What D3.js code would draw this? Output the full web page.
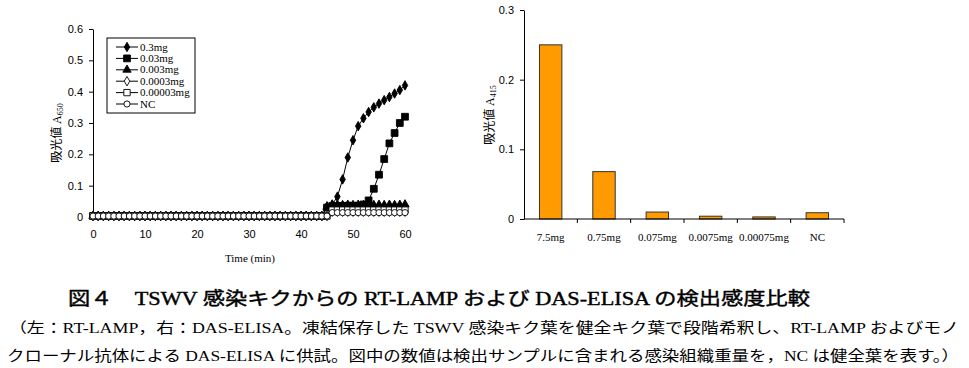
<!DOCTYPE html>
<html>
<head>
<meta charset="utf-8">
<script src="https://cdn.jsdelivr.net/npm/d3@7"></script>
<style>
  body { margin: 0; background: #fff; }
  svg { display: block; }
  .tick text { font-family: "Liberation Sans Narrow", "Liberation Sans", sans-serif; font-size: 11px; fill: #000; }
  .serif { font-family: "Liberation Serif", "Noto Sans CJK JP", serif; }
</style>
</head>
<body>
<svg id="fig" width="969" height="368"></svg>
<script>
// ---- left: RT-LAMP turbidity, one reading per minute
var time = [0, 1, 2, 3, 4, 5, 6, 7, 8, 9, 10, 11, 12, 13, 14, 15, 16, 17, 18, 19, 20,
    21, 22, 23, 24, 25, 26, 27, 28, 29, 30, 31, 32, 33, 34, 35, 36, 37, 38, 39, 40,
    41, 42, 43, 44, 45, 46, 47, 48, 49, 50, 51, 52, 53, 54, 55, 56, 57, 58, 59, 60];

// readings before 45 min are flat at 0.003
var flat = [0.003, 0.003, 0.003, 0.003, 0.003, 0.003, 0.003, 0.003, 0.003, 0.003,
    0.003, 0.003, 0.003, 0.003, 0.003, 0.003, 0.003, 0.003, 0.003, 0.003,
    0.003, 0.003, 0.003, 0.003, 0.003, 0.003, 0.003, 0.003, 0.003, 0.003,
    0.003, 0.003, 0.003, 0.003, 0.003, 0.003, 0.003, 0.003, 0.003, 0.003,
    0.003, 0.003, 0.003, 0.003, 0.003];

var mg03 = flat.concat([0.034, 0.040, 0.065, 0.120, 0.190, 0.245, 0.290, 0.315,
    0.335, 0.350, 0.362, 0.373, 0.383, 0.394, 0.405, 0.420]);
var mg003 = flat.concat([0.030, 0.035, 0.035, 0.035, 0.036, 0.036, 0.036, 0.040,
    0.053, 0.090, 0.135, 0.185, 0.235, 0.268, 0.300, 0.320]);
var mg0003 = flat.concat([0.032, 0.038, 0.039, 0.038, 0.039, 0.038, 0.039, 0.038,
    0.039, 0.038, 0.039, 0.038, 0.039, 0.038, 0.039, 0.040]);
var mg00003 = flat.concat([0.003, 0.017, 0.017, 0.017, 0.017, 0.017, 0.017, 0.017,
    0.017, 0.017, 0.017, 0.017, 0.017, 0.017, 0.017, 0.017]);
var mg000003 = flat.concat([0.003, 0.022, 0.022, 0.022, 0.022, 0.022, 0.022, 0.022,
    0.022, 0.022, 0.022, 0.022, 0.022, 0.022, 0.022, 0.022]);
var ncLamp = flat.concat([0.003, 0.014, 0.014, 0.014, 0.014, 0.014, 0.014, 0.014,
    0.014, 0.014, 0.014, 0.014, 0.014, 0.014, 0.014, 0.014]);

var lampNames = ["0.3mg", "0.03mg", "0.003mg", "0.0003mg", "0.00003mg", "NC"];
var lampValues = [mg03, mg003, mg0003, mg00003, mg000003, ncLamp];
var lampTicksX = [0, 10, 20, 30, 40, 50, 60];
var lampTicksY = [0, 0.1, 0.2, 0.3, 0.4, 0.5, 0.6];

// ---- right: DAS-ELISA
var elisaCats = ["7.5mg", "0.75mg", "0.075mg", "0.0075mg", "0.00075mg", "NC"];
var elisaValues = [0.250, 0.068, 0.010, 0.004, 0.003, 0.009];
var elisaTicksY = [0, 0.1, 0.2, 0.3];

var svg = d3.select("#fig");

// marker per series: symbol, filled?
var markers = [
    {type: d3.symbolDiamond, size: 26, fill: "#000"},
    {type: d3.symbolSquare, size: 46, fill: "#000"},
    {type: d3.symbolTriangle, size: 30, fill: "#000"},
    {type: d3.symbolDiamond, size: 26, fill: "#fff"},
    {type: d3.symbolSquare, size: 40, fill: "#fff"},
    {type: d3.symbolCircle, size: 30, fill: "#fff"}
];

// ===== left chart
var x = d3.scaleLinear().domain([0, 60]).range([93, 405]);
var y = d3.scaleLinear().domain([0, 0.6]).range([217, 29]);

var left = svg.append("g");

left.append("g")
    .attr("transform", "translate(0,217)")
    .call(d3.axisBottom(x).tickValues(lampTicksX).tickFormat(d3.format("d")).tickSize(4).tickPadding(9))
    .call(function (g) { g.select(".domain").remove(); })
    .call(function (g) { g.selectAll("line").remove(); });

left.append("g")
    .attr("transform", "translate(93,0)")
    .call(d3.axisLeft(y).tickValues(lampTicksY)
        .tickFormat(function (d) { return d === 0 ? "0" : d3.format(".1f")(d); })
        .tickSize(4).tickSizeOuter(0).tickPadding(6))
    .call(function (g) { g.select(".domain").attr("stroke", "#000"); });

var line = d3.line()
    .x(function (d, i) { return x(time[i]); })
    .y(function (d) { return y(d); });

lampValues.forEach(function (vals, k) {
    var g = left.append("g");
    g.append("path")
        .attr("d", line(vals))
        .attr("fill", "none")
        .attr("stroke", "#000")
        .attr("stroke-width", 1);
    var sym = d3.symbol().type(markers[k].type).size(markers[k].size);
    g.selectAll("path.pt")
        .data(vals)
        .enter().append("path")
        .attr("class", "pt")
        .attr("d", sym)
        .attr("transform", function (d, i) { return "translate(" + x(time[i]) + "," + y(d) + ")"; })
        .attr("fill", markers[k].fill)
        .attr("stroke", "#000")
        .attr("stroke-width", 0.9);
});

left.append("text")
    .attr("class", "serif")
    .attr("x", 250).attr("y", 262)
    .attr("text-anchor", "middle")
    .attr("font-size", 11)
    .text("Time (min)");

function yTitle(g, cx, cy, sub) {
    var t = g.append("text")
        .attr("transform", "translate(" + cx + "," + cy + ") rotate(-90)")
        .attr("text-anchor", "middle")
        .attr("font-size", 12)
        .attr("font-family", "'Noto Sans CJK JP', sans-serif");
    t.append("tspan").text("吸光値 ");
    t.append("tspan").attr("font-family", "'Liberation Serif', serif").text("A");
    t.append("tspan").attr("font-family", "'Liberation Serif', serif")
        .attr("font-size", 8).attr("dy", 2).text(sub);
}
yTitle(left, 61, 133, "650");

// legend
var legend = left.append("g").attr("transform", "translate(107,38)");
legend.append("rect")
    .attr("width", 88).attr("height", 75)
    .attr("fill", "#fff").attr("stroke", "#000").attr("stroke-width", 1);
lampNames.forEach(function (name, k) {
    var ly = 9 + k * 11.4;
    var row = legend.append("g").attr("transform", "translate(0," + ly + ")");
    row.append("line").attr("x1", 9).attr("x2", 31).attr("stroke", "#000");
    row.append("path")
        .attr("d", d3.symbol().type(markers[k].type).size(markers[k].size)())
        .attr("transform", "translate(20,0)")
        .attr("fill", markers[k].fill)
        .attr("stroke", "#000")
        .attr("stroke-width", 0.9);
    row.append("text")
        .attr("class", "serif")
        .attr("x", 33).attr("y", 3.5)
        .attr("font-size", 9.8)
        .attr("transform", "translate(33,0) scale(1.12,1) translate(-33,0)")
        .text(name);
});

// ===== right chart
var xb = d3.scaleBand().domain(elisaCats).range([524, 844]).paddingInner(0.58).paddingOuter(0.29);
var yb = d3.scaleLinear().domain([0, 0.3]).range([219, 10]);

var right = svg.append("g");

right.selectAll("rect.bar")
    .data(elisaValues)
    .enter().append("rect")
    .attr("class", "bar")
    .attr("x", function (d, i) { return xb(elisaCats[i]); })
    .attr("width", xb.bandwidth())
    .attr("y", function (d) { return yb(d); })
    .attr("height", function (d) { return yb(0) - yb(d); })
    .attr("fill", "#FF9A00")
    .attr("stroke", "#333")
    .attr("stroke-width", 1);

right.append("g")
    .attr("transform", "translate(524,0)")
    .call(d3.axisLeft(yb).tickValues(elisaTicksY)
        .tickFormat(function (d) { return d === 0 ? "0" : d3.format(".1f")(d); })
        .tickSize(4).tickSizeOuter(0).tickPadding(6))
    .call(function (g) { g.select(".domain").attr("stroke", "#000"); });

var xAx = right.append("g").attr("transform", "translate(0,219)");
xAx.append("line").attr("x1", 524).attr("x2", 844).attr("stroke", "#000");
var step = (844 - 524) / elisaCats.length;
xAx.selectAll("line.tk")
    .data(d3.range(1, elisaCats.length + 1))
    .enter().append("line")
    .attr("class", "tk")
    .attr("x1", function (i) { return 524 + i * step; })
    .attr("x2", function (i) { return 524 + i * step; })
    .attr("y2", 4)
    .attr("stroke", "#000");
xAx.selectAll("text")
    .data(elisaCats)
    .enter().append("text")
    .attr("class", "serif")
    .attr("x", function (d) { return xb(d) + xb.bandwidth() / 2; })
    .attr("y", 22)
    .attr("text-anchor", "middle")
    .attr("font-size", 11)
    .text(function (d) { return d; });

yTitle(right, 494, 115, "415");

// ===== caption
var cap = svg.append("g").attr("font-family", "'Liberation Serif', 'Noto Sans CJK JP', serif").attr("fill", "#000");
cap.append("text")
    .attr("x", 68).attr("y", 305)
    .attr("font-size", 18)
    .attr("stroke", "#000").attr("stroke-width", 0.4)
    .attr("textLength", 742).attr("lengthAdjust", "spacingAndGlyphs")
    .text("図４　TSWV 感染キクからの RT-LAMP および DAS-ELISA の検出感度比較");
cap.append("text")
    .attr("x", 9).attr("y", 333)
    .attr("font-size", 14.5)
    .attr("textLength", 950).attr("lengthAdjust", "spacingAndGlyphs")
    .text("（左：RT-LAMP，右：DAS-ELISA。凍結保存した TSWV 感染キク葉を健全キク葉で段階希釈し、RT-LAMP およびモノ");
cap.append("text")
    .attr("x", 7).attr("y", 361)
    .attr("font-size", 14.5)
    .attr("textLength", 952).attr("lengthAdjust", "spacingAndGlyphs")
    .text("クローナル抗体による DAS-ELISA に供試。図中の数値は検出サンプルに含まれる感染組織重量を，NC は健全葉を表す。）");
</script>
</body>
</html>
